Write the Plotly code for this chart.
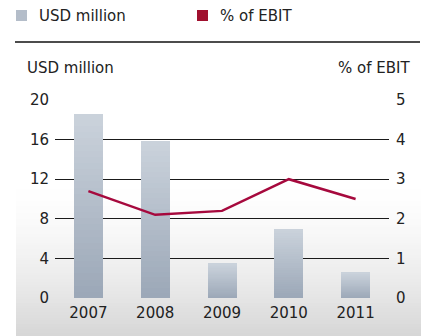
import plotly.graph_objects as go

# Data
years = ["2007", "2008", "2009", "2010", "2011"]
usd_million = [18.6, 15.9, 3.5, 7.0, 2.6]
pct_of_ebit = [2.7, 2.1, 2.2, 3.0, 2.5]

left_ticks = [0, 4, 8, 12, 16, 20]
right_ticks = [0, 1, 2, 3, 4, 5]

series_names = ["USD million", "% of EBIT"]

FONT = "DejaVu Sans, Verdana, sans-serif"
TXT = "#222222"
BAR_TOP = (0xCB, 0xD3, 0xDC)
BAR_BOTTOM = (0x9B, 0xA7, 0xB7)
BAR_SWATCH = "#B4BDC9"
LINE_COLOR = "#A6093D"
LINE_SWATCH = "#A0102E"

# Plot area in pixels (figure is 421 x 336)
PL, PR, PT, PB = 55, 389, 100, 298
PW, PH = PR - PL, PB - PT


def px_x(x):
    return (x - PL) / PW


def px_y(y):
    return (PB - y) / PH


def mix(c0, c1, t):
    return "rgb({},{},{})".format(*[round(a + (b - a) * t) for a, b in zip(c0, c1)])


fig = go.Figure()

# Bars are built as stacked slices so each bar shades from dark (base) to light (top)
N_SLICES = 30
for k in range(N_SLICES):
    t = (k + 0.5) / N_SLICES
    fig.add_trace(go.Bar(
        x=years,
        y=[v / N_SLICES for v in usd_million],
        marker=dict(color=mix(BAR_BOTTOM, BAR_TOP, t), line=dict(width=0)),
        showlegend=False,
        hoverinfo="skip",
        yaxis="y",
    ))

fig.add_trace(go.Scatter(
    x=years, y=pct_of_ebit, mode="lines", name=series_names[1],
    line=dict(color=LINE_COLOR, width=2.5),
    showlegend=False, yaxis="y2",
))

# Soft grey fade behind the lower part of the chart
shapes = []
y_top_px, y_bot_px = 180, 336
x0_px, x1_px = 16, 421
n_strips = 52
for i in range(n_strips):
    a = y_top_px + (y_bot_px - y_top_px) * i / n_strips
    b = y_top_px + (y_bot_px - y_top_px) * (i + 1) / n_strips
    t = ((i + 0.5) / n_strips) ** 1.6
    g = round(255 - t * (255 - 0xD6))
    shapes.append(dict(
        type="rect", xref="paper", yref="paper", layer="below",
        x0=px_x(x0_px), x1=px_x(x1_px),
        y0=px_y(b) - 0.001, y1=px_y(a) + 0.001,
        fillcolor=f"rgb({g},{g},{g})", line=dict(width=0),
    ))

# Rule under the legend
shapes.append(dict(
    type="line", xref="paper", yref="paper",
    x0=px_x(15), x1=px_x(420), y0=px_y(42), y1=px_y(42),
    line=dict(color="#111111", width=1.5),
))

# Legend swatches and labels
legend_items = [(16, 37, BAR_SWATCH), (197, 218, LINE_SWATCH)]
annotations = []
for name, (sx, tx, col) in zip(series_names, legend_items):
    shapes.append(dict(
        type="rect", xref="paper", yref="paper",
        x0=px_x(sx), x1=px_x(sx + 11), y0=px_y(21), y1=px_y(10),
        fillcolor=col, line=dict(width=0),
    ))
    annotations.append(dict(
        text=name, xref="paper", yref="paper", x=px_x(tx), y=px_y(15.5),
        xanchor="left", yanchor="middle", showarrow=False,
        font=dict(family=FONT, size=15, color=TXT),
    ))

# Axis titles
annotations += [
    dict(text=series_names[0], xref="paper", yref="paper",
         x=px_x(25), y=px_y(68), xanchor="left", yanchor="middle",
         showarrow=False, font=dict(family=FONT, size=15, color=TXT)),
    dict(text=series_names[1], xref="paper", yref="paper",
         x=px_x(412), y=px_y(68), xanchor="right", yanchor="middle",
         showarrow=False, font=dict(family=FONT, size=15, color=TXT)),
]

fig.update_layout(
    width=421, height=336,
    margin=dict(l=PL, r=421 - PR, t=PT, b=336 - PB),
    paper_bgcolor="white",
    plot_bgcolor="rgba(0,0,0,0)",
    barmode="stack",
    bargap=0.566,
    font=dict(family=FONT, size=15, color=TXT),
    shapes=shapes,
    annotations=annotations,
    showlegend=False,
    xaxis=dict(
        type="category", showgrid=False, zeroline=False, showline=False,
        ticks="", tickfont=dict(size=15, color=TXT), fixedrange=True,
        ticklabelstandoff=4,
    ),
    yaxis=dict(
        range=[0, 20], tickvals=left_ticks, showgrid=True,
        gridcolor="#1a1a1a", gridwidth=1, zeroline=False, showline=False,
        ticks="", tickfont=dict(size=15, color=TXT), ticklabelstandoff=5,
    ),
    yaxis2=dict(
        range=[0, 5], tickvals=right_ticks, overlaying="y", side="right",
        showgrid=False, zeroline=False, showline=False, ticks="",
        tickfont=dict(size=15, color=TXT), ticklabelstandoff=6,
    ),
)

fig.write_html("out.html")
